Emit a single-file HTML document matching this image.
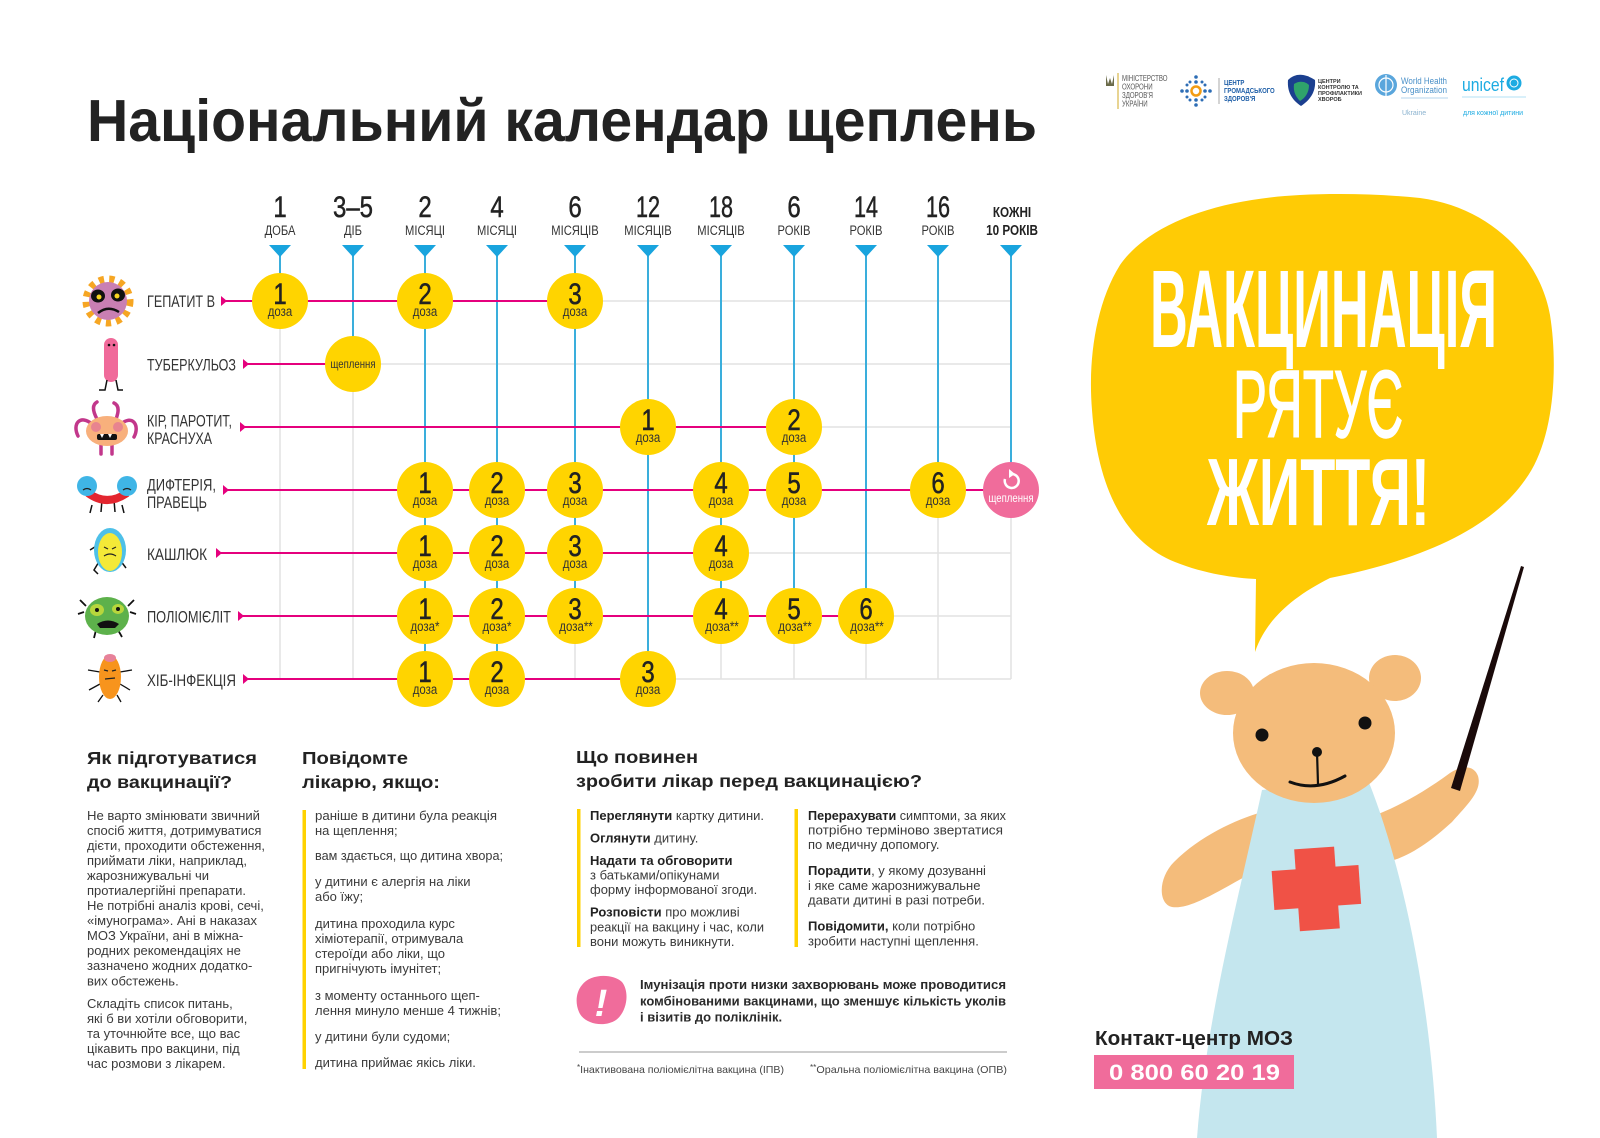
<!DOCTYPE html>
<html><head><meta charset="utf-8"><style>
html,body{margin:0;padding:0;background:#fff;}
svg{display:block;}
text{font-family:"Liberation Sans",sans-serif;}
.cn{font-family:"Liberation Sans Narrow","Liberation Sans",sans-serif;}
</style></head><body>
<svg width="1600" height="1138" viewBox="0 0 1600 1138" xmlns="http://www.w3.org/2000/svg">
<rect width="1600" height="1138" fill="#fff"/>

<!-- Logos -->
<g>
<path d="M1106 75 L1108 84 L1110 78 L1112 84 L1114 75 L1114 86 L1106 86 Z" fill="#6b6b4a"/>
<line x1="1118" y1="73" x2="1118" y2="109" stroke="#d9b64a" stroke-width="1.2"/>
<g fill="#555" font-size="8.5">
<text transform="translate(1122,81) scale(0.72,1)">МІНІСТЕРСТВО</text>
<text transform="translate(1122,89.5) scale(0.72,1)">ОХОРОНИ</text>
<text transform="translate(1122,98) scale(0.72,1)">ЗДОРОВ'Я</text>
<text transform="translate(1122,106.5) scale(0.72,1)">УКРАЇНИ</text>
</g>
<g fill="#2d6db5">
<circle cx="1196" cy="77" r="1.8"/><circle cx="1196" cy="82" r="1.8"/><circle cx="1190" cy="82" r="1.5"/><circle cx="1202" cy="82" r="1.5"/>
<circle cx="1196" cy="100" r="1.8"/><circle cx="1196" cy="105" r="1.8"/><circle cx="1190" cy="100" r="1.5"/><circle cx="1202" cy="100" r="1.5"/>
<circle cx="1182" cy="91" r="1.8"/><circle cx="1187" cy="91" r="1.8"/><circle cx="1187" cy="85" r="1.5"/><circle cx="1187" cy="97" r="1.5"/>
<circle cx="1205" cy="91" r="1.8"/><circle cx="1210" cy="91" r="1.8"/><circle cx="1205" cy="85" r="1.5"/><circle cx="1205" cy="97" r="1.5"/>
</g>
<circle cx="1196" cy="91" r="4.5" fill="none" stroke="#f39c12" stroke-width="2.5"/>
<line x1="1219" y1="78" x2="1219" y2="104" stroke="#aaa" stroke-width="1"/>
<g fill="#1f5fa8" font-size="7.5" font-weight="bold">
<text transform="translate(1224,85) scale(0.8,1)">ЦЕНТР</text>
<text transform="translate(1224,93) scale(0.8,1)">ГРОМАДСЬКОГО</text>
<text transform="translate(1224,101) scale(0.8,1)">ЗДОРОВ'Я</text>
</g>
<path d="M1288 80 C1296 72 1306 74 1315 80 C1316 92 1310 100 1301 106 C1292 100 1287 92 1288 80 Z" fill="#1b3f8f"/>
<path d="M1294 84 C1300 80 1306 82 1309 85 C1309 93 1305 98 1300 101 C1296 97 1293 92 1294 84 Z" fill="#2fa36b"/>
<g fill="#333" font-size="5.5" font-weight="bold">
<text x="1318" y="83">ЦЕНТРИ</text><text x="1318" y="89">КОНТРОЛЮ ТА</text><text x="1318" y="95">ПРОФІЛАКТИКИ</text><text x="1318" y="101">ХВОРОБ</text>
</g>
<circle cx="1386" cy="85" r="11" fill="#5aa6dc"/>
<circle cx="1386" cy="85" r="7" fill="none" stroke="#fff" stroke-width="1.2"/>
<line x1="1386" y1="75" x2="1386" y2="96" stroke="#fff" stroke-width="1.2"/>
<text x="1401" y="84" font-size="9" fill="#4a90c8" textLength="46" lengthAdjust="spacingAndGlyphs">World Health</text>
<text x="1401" y="93" font-size="9" fill="#4a90c8" textLength="46" lengthAdjust="spacingAndGlyphs">Organization</text>
<line x1="1401" y1="98" x2="1448" y2="98" stroke="#9cc7e6" stroke-width="0.8"/>
<text x="1402" y="115" font-size="7" fill="#8ab2cf">Ukraine</text>
<text x="1462" y="91" font-size="18" fill="#1CABE2" textLength="42" lengthAdjust="spacingAndGlyphs">unicef</text>
<circle cx="1514" cy="83" r="7.5" fill="#1CABE2"/>
<circle cx="1514" cy="83" r="4" fill="none" stroke="#fff" stroke-width="1"/>
<line x1="1462" y1="97" x2="1526" y2="97" stroke="#9ad8f0" stroke-width="0.8"/>
<text x="1463" y="115" font-size="7" fill="#1CABE2" textLength="60" lengthAdjust="spacingAndGlyphs">для кожної дитини</text>
</g>

<!-- Title -->
<text x="87" y="141" font-size="59" font-weight="bold" fill="#222" textLength="950" lengthAdjust="spacingAndGlyphs">Національний календар щеплень</text>

<!-- Column headers -->
<g class="cn" fill="#222" font-size="30" text-anchor="middle" stroke="#222" stroke-width="0.5">
<text transform="translate(280,217) scale(0.8,1)">1</text>
<text transform="translate(353,217) scale(0.8,1)">3–5</text>
<text transform="translate(425,217) scale(0.8,1)">2</text>
<text transform="translate(497,217) scale(0.8,1)">4</text>
<text transform="translate(575,217) scale(0.8,1)">6</text>
<text transform="translate(648,217) scale(0.72,1)">12</text>
<text transform="translate(721,217) scale(0.72,1)">18</text>
<text transform="translate(794,217) scale(0.8,1)">6</text>
<text transform="translate(866,217) scale(0.72,1)">14</text>
<text transform="translate(938,217) scale(0.72,1)">16</text>
</g>
<g class="cn" fill="#333" font-size="14" text-anchor="middle">
<text transform="translate(280,235) scale(0.8,1)">ДОБА</text>
<text transform="translate(353,235) scale(0.8,1)">ДІБ</text>
<text transform="translate(425,235) scale(0.8,1)">МІСЯЦІ</text>
<text transform="translate(497,235) scale(0.8,1)">МІСЯЦІ</text>
<text transform="translate(575,235) scale(0.8,1)">МІСЯЦІВ</text>
<text transform="translate(648,235) scale(0.8,1)">МІСЯЦІВ</text>
<text transform="translate(721,235) scale(0.8,1)">МІСЯЦІВ</text>
<text transform="translate(794,235) scale(0.8,1)">РОКІВ</text>
<text transform="translate(866,235) scale(0.8,1)">РОКІВ</text>
<text transform="translate(938,235) scale(0.8,1)">РОКІВ</text>
</g>
<g class="cn" fill="#222" font-size="15" font-weight="bold" text-anchor="middle">
<text transform="translate(1012,217) scale(0.78,1)">КОЖНІ</text>
<text transform="translate(1012,235) scale(0.78,1)">10 РОКІВ</text>
</g>

<!-- Grid gray -->
<g stroke="#e2e2e2" stroke-width="1.5">
<line x1="280" y1="301" x2="1011" y2="301"/><line x1="280" y1="364" x2="1011" y2="364"/>
<line x1="280" y1="427" x2="1011" y2="427"/><line x1="280" y1="490" x2="1011" y2="490"/>
<line x1="280" y1="553" x2="1011" y2="553"/><line x1="280" y1="616" x2="1011" y2="616"/>
<line x1="280" y1="679" x2="1011" y2="679"/>
<line x1="280" y1="301" x2="280" y2="679"/><line x1="353" y1="301" x2="353" y2="679"/>
<line x1="425" y1="301" x2="425" y2="679"/><line x1="497" y1="301" x2="497" y2="679"/>
<line x1="575" y1="301" x2="575" y2="679"/><line x1="648" y1="301" x2="648" y2="679"/>
<line x1="721" y1="301" x2="721" y2="679"/><line x1="794" y1="301" x2="794" y2="679"/>
<line x1="866" y1="301" x2="866" y2="679"/><line x1="938" y1="301" x2="938" y2="679"/>
<line x1="1011" y1="301" x2="1011" y2="679"/>
</g>
<!-- Blue verticals -->
<g stroke="#3aaedc" stroke-width="2">
<line x1="280" y1="250" x2="280" y2="301"/><line x1="353" y1="250" x2="353" y2="364"/>
<line x1="425" y1="250" x2="425" y2="679"/><line x1="497" y1="250" x2="497" y2="679"/>
<line x1="575" y1="250" x2="575" y2="616"/><line x1="648" y1="250" x2="648" y2="679"/>
<line x1="721" y1="250" x2="721" y2="616"/><line x1="794" y1="250" x2="794" y2="616"/>
<line x1="866" y1="250" x2="866" y2="616"/><line x1="938" y1="250" x2="938" y2="490"/>
<line x1="1011" y1="250" x2="1011" y2="490"/>
</g>
<g fill="#19a4de">
<polygon points="269,245 291,245 280,257"/><polygon points="342,245 364,245 353,257"/>
<polygon points="414,245 436,245 425,257"/><polygon points="486,245 508,245 497,257"/>
<polygon points="564,245 586,245 575,257"/><polygon points="637,245 659,245 648,257"/>
<polygon points="710,245 732,245 721,257"/><polygon points="783,245 805,245 794,257"/>
<polygon points="855,245 877,245 866,257"/><polygon points="927,245 949,245 938,257"/>
<polygon points="1000,245 1022,245 1011,257"/>
</g>
<!-- Pink row lines -->
<g stroke="#e5007d" stroke-width="2">
<line x1="226" y1="301" x2="575" y2="301"/><line x1="248" y1="364" x2="353" y2="364"/>
<line x1="245" y1="427" x2="794" y2="427"/><line x1="228" y1="490" x2="1011" y2="490"/>
<line x1="221" y1="553" x2="721" y2="553"/><line x1="243" y1="616" x2="866" y2="616"/>
<line x1="248" y1="679" x2="648" y2="679"/>
</g>
<g fill="#e5007d">
<polygon points="221,296 227,301 221,306"/><polygon points="243,359 249,364 243,369"/>
<polygon points="240,422 246,427 240,432"/><polygon points="223,485 229,490 223,495"/>
<polygon points="216,548 222,553 216,558"/><polygon points="238,611 244,616 238,621"/>
<polygon points="243,674 249,679 243,684"/>
</g>

<!-- Row labels -->
<g class="cn" fill="#333" font-size="17">
<text x="147" y="307" textLength="68" lengthAdjust="spacingAndGlyphs">ГЕПАТИТ В</text>
<text x="147" y="370.5" textLength="89" lengthAdjust="spacingAndGlyphs">ТУБЕРКУЛЬОЗ</text>
<text x="147" y="426.5" textLength="85" lengthAdjust="spacingAndGlyphs">КІР, ПАРОТИТ,</text>
<text x="147" y="444" textLength="65" lengthAdjust="spacingAndGlyphs">КРАСНУХА</text>
<text x="147" y="490.5" textLength="69" lengthAdjust="spacingAndGlyphs">ДИФТЕРІЯ,</text>
<text x="147" y="508" textLength="60" lengthAdjust="spacingAndGlyphs">ПРАВЕЦЬ</text>
<text x="147" y="560" textLength="60" lengthAdjust="spacingAndGlyphs">КАШЛЮК</text>
<text x="147" y="622.5" textLength="84" lengthAdjust="spacingAndGlyphs">ПОЛІОМІЄЛІТ</text>
<text x="147" y="686" textLength="89" lengthAdjust="spacingAndGlyphs">ХІБ-ІНФЕКЦІЯ</text>
</g>

<!-- Monsters -->
<g>
<circle cx="108" cy="301" r="21" fill="none" stroke="#F6A623" stroke-width="9" stroke-dasharray="5 5"/>
<circle cx="108" cy="301" r="19" fill="#C97FB3"/>
<ellipse cx="98" cy="296" rx="7" ry="6.5" fill="#111"/><ellipse cx="118" cy="295" rx="7" ry="6.5" fill="#111"/>
<circle cx="99" cy="297" r="2.5" fill="#F8D521"/><circle cx="117" cy="296" r="2.5" fill="#F8D521"/>
<path d="M98 313 Q108 305 119 312" stroke="#111" stroke-width="2.5" fill="none"/>

<rect x="104" y="338" width="14" height="44" rx="7" fill="#F06A9A"/>
<circle cx="109" cy="345" r="1.3" fill="#111"/><circle cx="114" cy="345" r="1.3" fill="#111"/>
<path d="M107 380 L105 390 L99 390 M116 380 L118 390 L123 390" stroke="#111" stroke-width="1.5" fill="none"/>

<path d="M92 424 C80 414 72 424 78 436 M121 424 C133 414 140 426 134 437 M97 419 Q90 406 97 402 M116 419 Q121 406 114 403 M101 442 L101 454 M112 442 L112 454" stroke="#C2378B" stroke-width="3.5" fill="none" stroke-linecap="round"/>
<ellipse cx="107" cy="431" rx="21" ry="15" fill="#F8B07C"/>
<circle cx="96" cy="427" r="5" fill="#E8848F"/><circle cx="118" cy="427" r="5" fill="#E8848F"/>
<rect x="97" y="434" width="20" height="6" rx="2" fill="#111"/>
<path d="M100 434 L102 438 L104 434 M108 434 L110 438 L112 434" fill="#fff"/>

<path d="M92 505 L90 513 M102 500 L101 512 M114 500 L115 512 M122 505 L124 513" stroke="#111" stroke-width="1.5"/>
<path d="M88 493 Q107 507 127 493" stroke="#E3262F" stroke-width="8" fill="none"/>
<circle cx="87" cy="486" r="10" fill="#3FB5E6"/><circle cx="127" cy="486" r="10" fill="#3FB5E6"/>
<path d="M83 490 Q87 487 91 490 M123 490 Q127 487 131 490" stroke="#222" stroke-width="1.2" fill="none"/>

<path d="M100 560 L94 570 L98 574 M120 560 L126 568 M98 545 L90 550" stroke="#111" stroke-width="1.5" fill="none"/>
<ellipse cx="110" cy="550" rx="16" ry="22" fill="#4EC0E8"/>
<ellipse cx="110" cy="552" rx="12" ry="19" fill="#F4E937"/>
<path d="M104 547 L108 549 M116 547 L112 549 M104 556 Q110 552 116 556" stroke="#222" stroke-width="1.2" fill="none"/>

<path d="M86 606 L80 600 M84 612 L78 614 M128 606 L134 600 M130 612 L136 614 M96 630 L94 638 M118 630 L122 637" stroke="#111" stroke-width="1.8" fill="none"/>
<ellipse cx="107" cy="616" rx="22" ry="19" fill="#5DB14B"/>
<ellipse cx="97" cy="610" rx="7" ry="6" fill="#B7D63C"/><ellipse cx="118" cy="609" rx="6" ry="5" fill="#B7D63C"/>
<circle cx="97" cy="610" r="2" fill="#111"/><circle cx="118" cy="609" r="2" fill="#111"/>
<path d="M97 624 Q108 617 119 624 L115 628 L100 628 Z" fill="#111"/>

<path d="M100 672 L88 670 M100 684 L89 690 M120 672 L132 670 M120 684 L130 690 M103 695 L98 702 M117 695 L121 702" stroke="#111" stroke-width="1.3" fill="none"/>
<ellipse cx="110" cy="677" rx="11" ry="22" fill="#F7941D"/>
<ellipse cx="110" cy="658" rx="6" ry="4" fill="#E7829A"/>
<path d="M104 670 L108 671 M116 670 L112 671 M105 679 L115 678" stroke="#222" stroke-width="1.2"/>
</g>

<!-- Circles -->
<g fill="#FFD400">
<circle cx="280" cy="301" r="28"/><circle cx="425" cy="301" r="28"/><circle cx="575" cy="301" r="28"/>
<circle cx="353" cy="364" r="28"/>
<circle cx="648" cy="427" r="28"/><circle cx="794" cy="427" r="28"/>
<circle cx="425" cy="490" r="28"/><circle cx="497" cy="490" r="28"/><circle cx="575" cy="490" r="28"/><circle cx="721" cy="490" r="28"/><circle cx="794" cy="490" r="28"/><circle cx="938" cy="490" r="28"/>
<circle cx="425" cy="553" r="28"/><circle cx="497" cy="553" r="28"/><circle cx="575" cy="553" r="28"/><circle cx="721" cy="553" r="28"/>
<circle cx="425" cy="616" r="28"/><circle cx="497" cy="616" r="28"/><circle cx="575" cy="616" r="28"/><circle cx="721" cy="616" r="28"/><circle cx="794" cy="616" r="28"/><circle cx="866" cy="616" r="28"/>
<circle cx="425" cy="679" r="28"/><circle cx="497" cy="679" r="28"/><circle cx="648" cy="679" r="28"/>
</g>
<circle cx="1011" cy="490" r="28" fill="#F06C9B"/>

<g class="cn" fill="#222" font-size="30" text-anchor="middle" stroke="#222" stroke-width="0.5">
<text transform="translate(280,304) scale(0.8,1)">1</text><text transform="translate(425,304) scale(0.8,1)">2</text><text transform="translate(575,304) scale(0.8,1)">3</text>
<text transform="translate(648,430) scale(0.8,1)">1</text><text transform="translate(794,430) scale(0.8,1)">2</text>
<text transform="translate(425,493) scale(0.8,1)">1</text><text transform="translate(497,493) scale(0.8,1)">2</text><text transform="translate(575,493) scale(0.8,1)">3</text><text transform="translate(721,493) scale(0.8,1)">4</text><text transform="translate(794,493) scale(0.8,1)">5</text><text transform="translate(938,493) scale(0.8,1)">6</text>
<text transform="translate(425,556) scale(0.8,1)">1</text><text transform="translate(497,556) scale(0.8,1)">2</text><text transform="translate(575,556) scale(0.8,1)">3</text><text transform="translate(721,556) scale(0.8,1)">4</text>
<text transform="translate(425,619) scale(0.8,1)">1</text><text transform="translate(497,619) scale(0.8,1)">2</text><text transform="translate(575,619) scale(0.8,1)">3</text><text transform="translate(721,619) scale(0.8,1)">4</text><text transform="translate(794,619) scale(0.8,1)">5</text><text transform="translate(866,619) scale(0.8,1)">6</text>
<text transform="translate(425,682) scale(0.8,1)">1</text><text transform="translate(497,682) scale(0.8,1)">2</text><text transform="translate(648,682) scale(0.8,1)">3</text>
</g>
<g class="cn" fill="#333" font-size="13.5" text-anchor="middle">
<text transform="translate(280,316) scale(0.85,1)">доза</text><text transform="translate(425,316) scale(0.85,1)">доза</text><text transform="translate(575,316) scale(0.85,1)">доза</text>
<text transform="translate(648,442) scale(0.85,1)">доза</text><text transform="translate(794,442) scale(0.85,1)">доза</text>
<text transform="translate(425,505) scale(0.85,1)">доза</text><text transform="translate(497,505) scale(0.85,1)">доза</text><text transform="translate(575,505) scale(0.85,1)">доза</text><text transform="translate(721,505) scale(0.85,1)">доза</text><text transform="translate(794,505) scale(0.85,1)">доза</text><text transform="translate(938,505) scale(0.85,1)">доза</text>
<text transform="translate(425,568) scale(0.85,1)">доза</text><text transform="translate(497,568) scale(0.85,1)">доза</text><text transform="translate(575,568) scale(0.85,1)">доза</text><text transform="translate(721,568) scale(0.85,1)">доза</text>
<text transform="translate(425,631) scale(0.85,1)">доза*</text><text transform="translate(497,631) scale(0.85,1)">доза*</text><text transform="translate(576,631) scale(0.85,1)">доза**</text><text transform="translate(722,631) scale(0.85,1)">доза**</text><text transform="translate(795,631) scale(0.85,1)">доза**</text><text transform="translate(867,631) scale(0.85,1)">доза**</text>
<text transform="translate(425,694) scale(0.85,1)">доза</text><text transform="translate(497,694) scale(0.85,1)">доза</text><text transform="translate(648,694) scale(0.85,1)">доза</text>
<text transform="translate(353,368) scale(0.8,1)" font-size="12">щеплення</text>
</g>
<path d="M1005 479 A7 7 0 1 0 1011 474" fill="none" stroke="#fff" stroke-width="2.5"/>
<polygon points="1009,469 1015,474 1009,478" fill="#fff"/>
<text class="cn" transform="translate(1011,502) scale(0.8,1)" text-anchor="middle" font-size="12" fill="#fff">щеплення</text>

<!-- Bottom text -->
<g font-weight="bold" fill="#222" font-size="17.5">
<text x="87" y="764" textLength="170" lengthAdjust="spacingAndGlyphs">Як підготуватися</text>
<text x="87" y="788" textLength="145" lengthAdjust="spacingAndGlyphs">до вакцинації?</text>
<text x="302" y="764" textLength="106" lengthAdjust="spacingAndGlyphs">Повідомте</text>
<text x="302" y="788" textLength="138" lengthAdjust="spacingAndGlyphs">лікарю, якщо:</text>
<text x="576" y="763" textLength="122" lengthAdjust="spacingAndGlyphs">Що повинен</text>
<text x="576" y="787" textLength="346" lengthAdjust="spacingAndGlyphs">зробити лікар перед вакцинацією?</text>
</g>
<g fill="#3a3a3a" font-size="13">
<text x="87" y="820" textLength="173" lengthAdjust="spacingAndGlyphs">Не варто змінювати звичний</text>
<text x="87" y="835">спосіб життя, дотримуватися</text>
<text x="87" y="850" textLength="178" lengthAdjust="spacingAndGlyphs">дієти, проходити обстеження,</text>
<text x="87" y="865">приймати ліки, наприклад,</text>
<text x="87" y="880">жарознижувальні чи</text>
<text x="87" y="895">протиалергійні препарати.</text>
<text x="87" y="910">Не потрібні аналіз крові, сечі,</text>
<text x="87" y="925">«імунограма». Ані в наказах</text>
<text x="87" y="940">МОЗ України, ані в міжна-</text>
<text x="87" y="955">родних рекомендаціях не</text>
<text x="87" y="970">зазначено жодних додатко-</text>
<text x="87" y="985.5">вих обстежень.</text>
<text x="87" y="1008">Складіть список питань,</text>
<text x="87" y="1023">які б ви хотіли обговорити,</text>
<text x="87" y="1038">та уточнюйте все, що вас</text>
<text x="87" y="1053">цікавить про вакцини, під</text>
<text x="87" y="1068">час розмови з лікарем.</text>

<text x="315" y="820" textLength="182" lengthAdjust="spacingAndGlyphs">раніше в дитини була реакція</text>
<text x="315" y="835">на щеплення;</text>
<text x="315" y="860" textLength="188" lengthAdjust="spacingAndGlyphs">вам здається, що дитина хвора;</text>
<text x="315" y="886">у дитини є алергія на ліки</text>
<text x="315" y="901">або їжу;</text>
<text x="315" y="928">дитина проходила курс</text>
<text x="315" y="943">хіміотерапії, отримувала</text>
<text x="315" y="958">стероїди або ліки, що</text>
<text x="315" y="973">пригнічують імунітет;</text>
<text x="315" y="1000">з моменту останнього щеп-</text>
<text x="315" y="1015">лення минуло менше 4 тижнів;</text>
<text x="315" y="1041">у дитини були судоми;</text>
<text x="315" y="1067">дитина приймає якісь ліки.</text>

<text x="590" y="820" textLength="174" lengthAdjust="spacingAndGlyphs"><tspan font-weight="bold" fill="#222">Переглянути</tspan> картку дитини.</text>
<text x="590" y="842.5"><tspan font-weight="bold" fill="#222">Оглянути</tspan> дитину.</text>
<text x="590" y="865" font-weight="bold" fill="#222">Надати та обговорити</text>
<text x="590" y="879.5">з батьками/опікунами</text>
<text x="590" y="894">форму інформованої згоди.</text>
<text x="590" y="916.5"><tspan font-weight="bold" fill="#222">Розповісти</tspan> про можливі</text>
<text x="590" y="931.5" textLength="174" lengthAdjust="spacingAndGlyphs">реакції на вакцину і час, коли</text>
<text x="590" y="946">вони можуть виникнути.</text>

<text x="808" y="820" textLength="198" lengthAdjust="spacingAndGlyphs"><tspan font-weight="bold" fill="#222">Перерахувати</tspan> симптоми, за яких</text>
<text x="808" y="834.5" textLength="195" lengthAdjust="spacingAndGlyphs">потрібно терміново звертатися</text>
<text x="808" y="849">по медичну допомогу.</text>
<text x="808" y="875"><tspan font-weight="bold" fill="#222">Порадити</tspan>, у якому дозуванні</text>
<text x="808" y="890">і яке саме жарознижувальне</text>
<text x="808" y="904.5">давати дитині в разі потреби.</text>
<text x="808" y="930.5"><tspan font-weight="bold" fill="#222">Повідомити,</tspan> коли потрібно</text>
<text x="808" y="945.5">зробити наступні щеплення.</text>
</g>
<g fill="#FFD200">
<rect x="302.5" y="810" width="3.5" height="259"/>
<rect x="577" y="809" width="3.5" height="138"/>
<rect x="794.5" y="809" width="3.5" height="138"/>
</g>
<path d="M582 985 C590 974 612 973 622 982 C630 992 627 1012 616 1020 C604 1028 584 1024 579 1012 C575 1003 576 992 582 985 Z" fill="#F06C9B"/>
<text x="601" y="1016" font-size="38" font-weight="bold" font-style="italic" fill="#fff" text-anchor="middle">!</text>
<g font-size="13" font-weight="bold" fill="#2a2a2a">
<text x="640" y="989" textLength="366" lengthAdjust="spacingAndGlyphs">Імунізація проти низки захворювань може проводитися</text>
<text x="640" y="1005.5" textLength="366" lengthAdjust="spacingAndGlyphs">комбінованими вакцинами, що зменшує кількість уколів</text>
<text x="640" y="1021.5">і візитів до поліклінік.</text>
</g>
<line x1="579" y1="1052" x2="1007" y2="1052" stroke="#999" stroke-width="1"/>
<g font-size="10.5" fill="#444">
<text x="577" y="1073" textLength="207" lengthAdjust="spacingAndGlyphs"><tspan font-size="8" dy="-3">*</tspan><tspan dy="3">Інактивована поліомієлітна вакцина (ІПВ)</tspan></text>
<text x="810" y="1073" textLength="197" lengthAdjust="spacingAndGlyphs"><tspan font-size="8" dy="-3">**</tspan><tspan dy="3">Оральна поліомієлітна вакцина (ОПВ)</tspan></text>
</g>

<!-- Speech bubble -->
<path d="M1255 652 C1265 622 1290 598 1330 578 C1420 560 1490 530 1525 480 C1555 440 1558 365 1550 315 C1540 258 1490 207 1420 198 C1380 194 1340 193 1300 195 C1220 199 1150 222 1120 265 C1095 305 1088 362 1092 410 C1097 480 1120 540 1175 562 C1205 574 1235 578 1256 579 Z" fill="#FFCB05"/>
<g fill="#fff" font-weight="bold" class="cn">
<text x="1150" y="347" font-size="110" textLength="347" lengthAdjust="spacingAndGlyphs">ВАКЦИНАЦІЯ</text>
<text x="1233" y="437" font-size="96" font-weight="normal" stroke="#fff" stroke-width="1.5" textLength="170" lengthAdjust="spacingAndGlyphs">РЯТУЄ</text>
<text x="1207" y="525" font-size="96" textLength="223" lengthAdjust="spacingAndGlyphs">ЖИТТЯ!</text>
</g>

<!-- Bear -->
<g>
<path d="M1262 812 C1235 820 1200 836 1174 862 C1158 878 1158 904 1172 907 C1190 910 1220 890 1250 874 Z" fill="#F4BC7B"/>
<path d="M1368 818 C1395 808 1420 795 1450 773 C1462 765 1474 765 1478 776 C1482 790 1470 802 1452 822 C1430 842 1410 856 1388 862 Z" fill="#F4BC7B"/>
<path d="M1262 790 C1238 900 1206 1020 1197 1138 L1437 1138 C1432 1020 1408 880 1368 780 Z" fill="#C4E6EE"/>
<ellipse cx="1227" cy="693" rx="27" ry="22" fill="#F4BC7B"/>
<ellipse cx="1395" cy="678" rx="26" ry="23" fill="#F4BC7B"/>
<ellipse cx="1314" cy="733" rx="81" ry="70" fill="#F4BC7B"/>
<circle cx="1262" cy="735" r="6.5" fill="#111"/>
<circle cx="1365" cy="723" r="6.5" fill="#111"/>
<circle cx="1317" cy="752" r="5" fill="#111"/>
<path d="M1317 752 L1318 784" stroke="#111" stroke-width="2.2"/>
<path d="M1290 782 Q1316 792 1345 776" stroke="#111" stroke-width="3" fill="none" stroke-linecap="round"/>
<g transform="rotate(-4 1316 889)" fill="#F05246">
<rect x="1297" y="848" width="40" height="82"/>
<rect x="1273" y="868" width="87" height="39"/>
</g>
<polygon points="1451,788 1460,791 1524,567 1521,566" fill="#1a0a0a"/>
</g>

<!-- Contact -->
<text x="1095" y="1045" font-size="20" font-weight="bold" fill="#222" textLength="198" lengthAdjust="spacingAndGlyphs">Контакт-центр МОЗ</text>
<rect x="1094" y="1055" width="200" height="34" fill="#F06C9B"/>
<text x="1109" y="1080" font-size="22" font-weight="bold" fill="#fff" textLength="171" lengthAdjust="spacingAndGlyphs">0 800 60 20 19</text>
</svg>
</body></html>
